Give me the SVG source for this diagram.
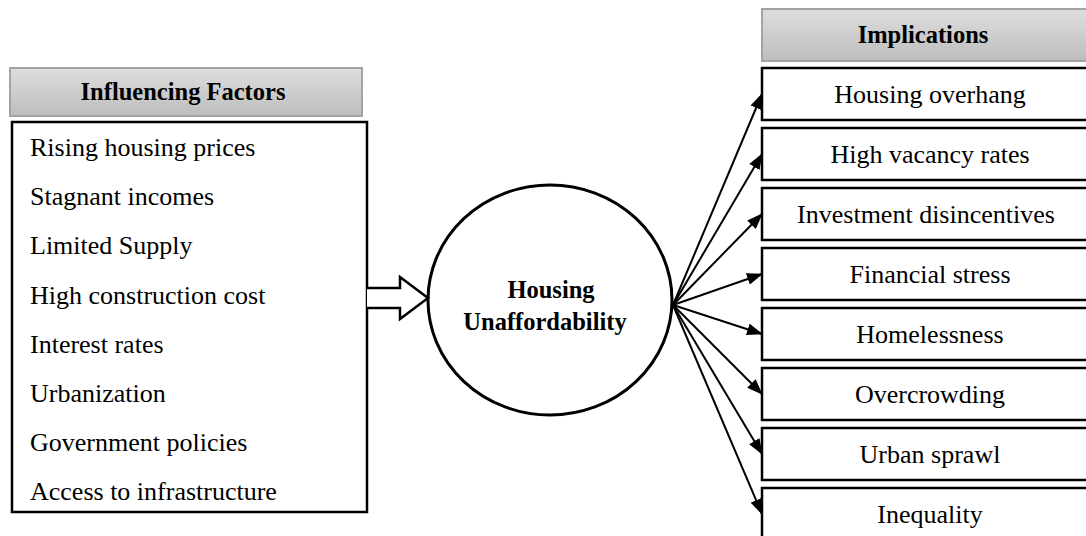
<svg xmlns="http://www.w3.org/2000/svg" width="1086" height="536" viewBox="0 0 1086 536">
<defs>
<linearGradient id="hdr" x1="0" y1="0" x2="0" y2="1">
<stop offset="0" stop-color="#dedede"/>
<stop offset="1" stop-color="#bdbdbd"/>
</linearGradient>
<marker id="ah" markerUnits="userSpaceOnUse" markerWidth="16" markerHeight="12" refX="15" refY="6" orient="auto">
<path d="M0,0 L16,6 L0,12 Z" fill="#000"/>
</marker>
<style>
.hdr{fill:url(#hdr);stroke:#a3a3a3;stroke-width:2}
.box{fill:#fff;stroke:#000;stroke-width:2.5}
.t{font-family:"Liberation Serif","Times New Roman",serif;font-size:26px;fill:#000}
.b{font-family:"Liberation Serif","Times New Roman",serif;font-size:24.5px;font-weight:bold;fill:#000}
.c{stroke:#000;stroke-width:2;fill:none;marker-end:url(#ah)}
</style>
</defs>
<rect width="1086" height="536" fill="#fff"/>

<g id="factors-header">
<rect class="hdr" x="10" y="68" width="352" height="48"/>
<text class="b" x="183" y="100" text-anchor="middle">Influencing Factors</text>
</g>
<g id="factors">
<rect class="box" x="12" y="122" width="355" height="390"/>
<text class="t" x="30" y="156">Rising housing prices</text>
<text class="t" x="30" y="205">Stagnant incomes</text>
<text class="t" x="30" y="254">Limited Supply</text>
<text class="t" x="30" y="304">High construction cost</text>
<text class="t" x="30" y="353">Interest rates</text>
<text class="t" x="30" y="402">Urbanization</text>
<text class="t" x="30" y="451">Government policies</text>
<text class="t" x="30" y="500">Access to infrastructure</text>
</g>

<g id="center">
<ellipse cx="550" cy="300" rx="122" ry="115" fill="#fff" stroke="#000" stroke-width="3"/>
<text class="b" x="551" y="298" text-anchor="middle">Housing</text>
<text class="b" x="545" y="330" text-anchor="middle">Unaffordability</text>
</g>

<g id="implications-header">
<rect class="hdr" x="762" y="9" width="330" height="52"/>
<text class="b" x="923" y="43" text-anchor="middle">Implications</text>
</g>
<g id="imp1"><rect class="box" x="762" y="68" width="336" height="52"/><text class="t" x="930" y="103" text-anchor="middle">Housing overhang</text></g>
<g id="imp2"><rect class="box" x="762" y="128" width="336" height="52"/><text class="t" x="930" y="163" text-anchor="middle">High vacancy rates</text></g>
<g id="imp3"><rect class="box" x="762" y="188" width="336" height="52"/><text class="t" x="926" y="223" text-anchor="middle">Investment disincentives</text></g>
<g id="imp4"><rect class="box" x="762" y="248" width="336" height="52"/><text class="t" x="930" y="283" text-anchor="middle">Financial stress</text></g>
<g id="imp5"><rect class="box" x="762" y="308" width="336" height="52"/><text class="t" x="930" y="343" text-anchor="middle">Homelessness</text></g>
<g id="imp6"><rect class="box" x="762" y="368" width="336" height="52"/><text class="t" x="930" y="403" text-anchor="middle">Overcrowding</text></g>
<g id="imp7"><rect class="box" x="762" y="428" width="336" height="52"/><text class="t" x="930" y="463" text-anchor="middle">Urban sprawl</text></g>
<g id="imp8"><rect class="box" x="762" y="488" width="336" height="52"/><text class="t" x="930" y="523" text-anchor="middle">Inequality</text></g>

<g id="connectors">
<path d="M367,288 L400,288 L400,277 L428,298 L400,319 L400,308 L367,308" fill="#fff" stroke="#000" stroke-width="2.5" stroke-linejoin="miter"/>
<line class="c" x1="673" y1="305" x2="762" y2="94"/>
<line class="c" x1="673" y1="305" x2="762" y2="154"/>
<line class="c" x1="673" y1="305" x2="762" y2="214"/>
<line class="c" x1="673" y1="305" x2="762" y2="274"/>
<line class="c" x1="673" y1="305" x2="762" y2="334"/>
<line class="c" x1="673" y1="305" x2="762" y2="394"/>
<line class="c" x1="673" y1="305" x2="762" y2="454"/>
<line class="c" x1="673" y1="305" x2="762" y2="514"/>
</g>
</svg>
